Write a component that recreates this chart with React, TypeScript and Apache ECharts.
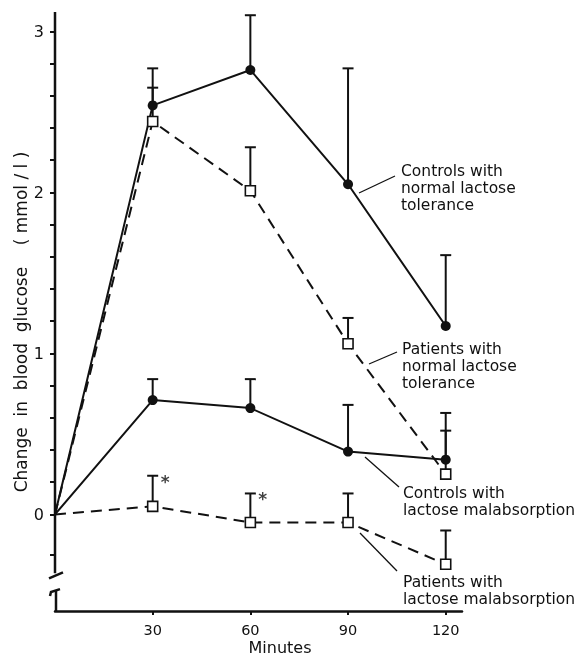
import React, { useEffect, useRef } from "react";
import * as echarts from "echarts";

const minutes = [0, 30, 60, 90, 120];
const controlsNormal = [0, 2.54, 2.76, 2.05, 1.17];
const controlsNormalUpper = [null, 2.77, 3.1, 2.77, 1.61];
const patientsNormal = [0, 2.44, 2.01, 1.06, 0.25];
const patientsNormalUpper = [null, 2.65, 2.28, 1.22, 0.52];
const controlsMalabs = [0, 0.71, 0.66, 0.39, 0.34];
const controlsMalabsUpper = [null, 0.84, 0.84, 0.68, 0.63];
const patientsMalabs = [0, 0.05, -0.05, -0.05, -0.31];
const patientsMalabsUpper = [null, 0.24, 0.13, 0.13, -0.1];
const significant = [30, 60];

const xTickValues = [30, 60, 90, 120];
const yLabelValues = [0, 1, 2, 3];
const yTickValues = [-0.25, 0, 0.2, 0.4, 0.6, 0.8, 1, 1.2, 1.4, 1.6, 1.8, 2, 2.2, 2.4, 2.6, 2.8, 3];

const labelCN = "Controls with\nnormal lactose\ntolerance";
const labelPN = "Patients with\nnormal lactose\ntolerance";
const labelCM = "Controls with\nlactose malabsorption";
const labelPM = "Patients with\nlactose malabsorption";

const FONT = '"DejaVu Sans", sans-serif';
const INK = "#111";

function pairs(vals: number[]) {
  return minutes.map((m, i) => [m, vals[i]]);
}
function errRows(vals: number[], upper: (number | null)[]) {
  const rows: number[][] = [];
  minutes.forEach((m, i) => {
    if (upper[i] !== null) rows.push([m, vals[i], upper[i] as number]);
  });
  return rows;
}

export default function App() {
  const ref = useRef<HTMLDivElement>(null);
  useEffect(() => {
    if (!ref.current) return;
    const chart = echarts.init(ref.current, null, { renderer: "svg" });
    const yMin = -0.6;
    const yMax = 3.12;
    const lineCommon = (dashed: boolean) => ({
      type: "line" as const,
      lineStyle: { color: INK, width: 2, type: dashed ? [11, 7] : "solid" },
      z: 3,
    });
    const circleSym = (v: any, p: any) => (p.dataIndex === 0 ? "none" : "circle");
    const rectSym = (v: any, p: any) => (p.dataIndex === 0 ? "none" : "rect");
    const errSeries = (rows: number[][]) => ({
      type: "custom" as const,
      z: 2,
      data: rows,
      renderItem: (params: any, api: any) => {
        const x = api.value(0);
        const p1 = api.coord([x, api.value(1)]);
        const p2 = api.coord([x, api.value(2)]);
        const st = { stroke: INK, lineWidth: 2 };
        return {
          type: "group",
          children: [
            { type: "line", shape: { x1: p1[0], y1: p1[1], x2: p2[0], y2: p2[1] }, style: st },
            { type: "line", shape: { x1: p2[0] - 5.5, y1: p2[1], x2: p2[0] + 5.5, y2: p2[1] }, style: st },
          ],
        };
      },
    });
    const sigPoints = significant.map((m) => {
      const i = minutes.indexOf(m);
      return [m, patientsMalabsUpper[i] as number];
    });

    chart.setOption({
      animation: false,
      grid: { left: 55, top: 12, width: 407, height: 599, containLabel: false },
      xAxis: {
        type: "value",
        min: 0,
        max: 125,
        axisLine: { show: true, onZero: false, lineStyle: { color: INK, width: 2.5 } },
        axisTick: { show: true, customValues: xTickValues, length: 4, lineStyle: { color: INK, width: 2 } },
        axisLabel: { customValues: xTickValues, color: INK, fontFamily: FONT, fontSize: 14.5, margin: 11 },
        splitLine: { show: false },
      },
      yAxis: {
        type: "value",
        min: yMin,
        max: yMax,
        axisLine: { show: false },
        axisTick: { show: true, customValues: yTickValues, length: 5, lineStyle: { color: INK, width: 2 } },
        axisLabel: { customValues: yLabelValues, color: INK, fontFamily: FONT, fontSize: 16, margin: 11 },
        splitLine: { show: false },
      },
      series: [
        { ...lineCommon(false), data: pairs(controlsNormal), symbol: circleSym, symbolSize: 10, itemStyle: { color: INK } },
        { ...lineCommon(true), data: pairs(patientsNormal), symbol: rectSym, symbolSize: 10, itemStyle: { color: "#fff", borderColor: INK, borderWidth: 1.6 } },
        { ...lineCommon(false), data: pairs(controlsMalabs), symbol: circleSym, symbolSize: 10, itemStyle: { color: INK } },
        { ...lineCommon(true), data: pairs(patientsMalabs), symbol: rectSym, symbolSize: 10, itemStyle: { color: "#fff", borderColor: INK, borderWidth: 1.6 } },
        errSeries(errRows(controlsNormal, controlsNormalUpper)),
        errSeries(errRows(patientsNormal, patientsNormalUpper)),
        errSeries(errRows(controlsMalabs, controlsMalabsUpper)),
        errSeries(errRows(patientsMalabs, patientsMalabsUpper)),
        {
          type: "scatter",
          data: sigPoints,
          symbolSize: 0,
          silent: true,
          label: {
            show: true,
            formatter: "*",
            position: "right",
            distance: 8,
            offset: [0, 6],
            color: INK,
            fontFamily: FONT,
            fontSize: 17,
            fontWeight: "bold",
          },
        },
      ],
    });

    const px = (x: number, y: number) => chart.convertToPixel({ gridIndex: 0 }, [x, y]) as number[];
    const top = px(0, yMax);
    const brk1 = px(0, -0.366);
    const brk2 = px(0, -0.47);
    const bot = px(0, yMin);
    const ax = top[0];
    const axStyle = { stroke: INK, lineWidth: 2.5 };
    const thin = { stroke: INK, lineWidth: 1.3 };
    const txt = (text: string, x: number, y: number) => ({
      type: "text",
      x,
      y,
      style: { text, font: `15.5px ${FONT}`, fill: INK, lineHeight: 17, verticalAlign: "top" },
    });

    chart.setOption({
      graphic: [
        { type: "line", shape: { x1: ax, y1: top[1], x2: ax, y2: brk1[1] }, style: axStyle },
        { type: "line", shape: { x1: ax - 6, y1: brk1[1] + 5, x2: ax + 8, y2: brk1[1] - 1 }, style: axStyle },
        { type: "polyline", shape: { points: [[ax - 5, brk2[1] + 6], [ax - 4, brk2[1] + 2], [ax + 5, brk2[1] - 1]] }, style: { ...axStyle, fill: null } },
        { type: "line", shape: { x1: ax + 1, y1: brk2[1], x2: ax + 1, y2: bot[1] }, style: axStyle },
        { type: "line", shape: { x1: 359, y1: 193, x2: 395, y2: 176 }, style: thin },
        { type: "line", shape: { x1: 369, y1: 364, x2: 397, y2: 352 }, style: thin },
        { type: "line", shape: { x1: 365, y1: 457, x2: 399, y2: 487 }, style: thin },
        { type: "line", shape: { x1: 360, y1: 533, x2: 397, y2: 571 }, style: thin },
        txt(labelCN, 401, 162),
        txt(labelPN, 402, 340),
        txt(labelCM, 403, 484),
        txt(labelPM, 403, 573),
        {
          type: "text",
          x: 280,
          y: 647,
          style: { text: "Minutes", font: `16px ${FONT}`, fill: INK, align: "center", verticalAlign: "middle" },
        },
        {
          type: "text",
          x: 21,
          y: 322,
          rotation: Math.PI / 2,
          style: {
            text: "Change  in  blood  glucose    ( mmol / l )",
            font: `17px ${FONT}`,
            fill: INK,
            align: "center",
            verticalAlign: "middle",
          },
        },
      ],
    });
    return () => chart.dispose();
  }, []);
  return <div ref={ref} style={{ position: "fixed", left: 0, top: 0, width: 582, height: 658 }} />;
}
